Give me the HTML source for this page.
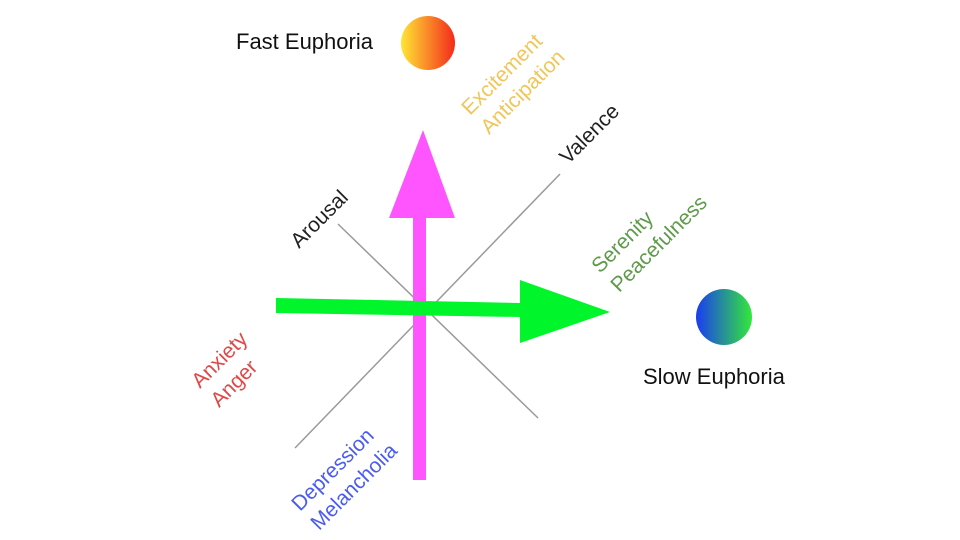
<!DOCTYPE html>
<html><head><meta charset="utf-8"><style>
html,body{margin:0;padding:0;background:#fff;width:960px;height:540px;overflow:hidden}
svg{display:block;font-family:"Liberation Sans",sans-serif}
</style></head><body>
<svg width="960" height="540" viewBox="0 0 960 540">
<defs>
<linearGradient id="g1" x1="0" x2="1" y1="0" y2="0"><stop offset="0" stop-color="#ffe634"/><stop offset="1" stop-color="#f42a1c"/></linearGradient>
<linearGradient id="g2" x1="0" x2="1" y1="0" y2="0"><stop offset="0" stop-color="#1a3cf0"/><stop offset="1" stop-color="#33e83a"/></linearGradient>
</defs>
<line x1="338" y1="224" x2="538" y2="418" stroke="#9a9a9a" stroke-width="1.5"/>
<line x1="295" y1="448" x2="560" y2="174" stroke="#9a9a9a" stroke-width="1.5"/>
<rect x="413" y="216" width="13" height="264" fill="#ff55ff"/>
<polygon points="389,218 455,218 423,130" fill="#ff55ff"/>
<polygon points="276,298 520,303 520,317 276,313" fill="#00f52a"/>
<polygon points="520,280 610,312 520,343" fill="#00f52a"/>
<circle cx="428" cy="43" r="27" fill="url(#g1)"/>
<circle cx="724" cy="317" r="28" fill="url(#g2)"/>
<text x="236" y="49" font-size="22" fill="#111">Fast Euphoria</text>
<text x="643" y="384" font-size="22" fill="#111">Slow Euphoria</text>
<g font-size="21">
<g transform="translate(470,116) rotate(-45)" fill="#f2c55a"><text x="0" y="0">Excitement</text><text x="0" y="27">Anticipation</text></g>
<g transform="translate(568,165) rotate(-45)" fill="#222"><text x="0" y="0">Valence</text></g>
<g transform="translate(299,249) rotate(-45)" fill="#222"><text x="0" y="0">Arousal</text></g>
<g transform="translate(600,274) rotate(-45)" fill="#5d9a4a"><text x="0" y="0">Serenity</text><text x="0" y="27">Peacefulness</text></g>
<g transform="translate(200,389) rotate(-45)" fill="#e04848"><text x="0" y="0">Anxiety</text><text x="0" y="27">Anger</text></g>
<g transform="translate(300,512) rotate(-45)" fill="#4a5cf0"><text x="0" y="0">Depression</text><text x="0" y="27">Melancholia</text></g>
</g>
</svg>
</body></html>
